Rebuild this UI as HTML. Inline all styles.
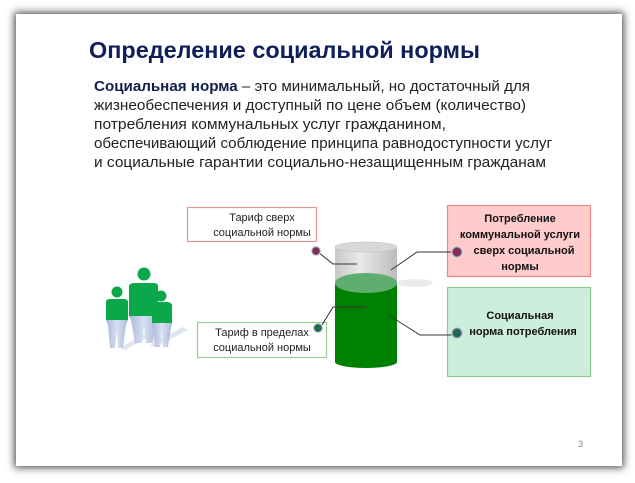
<!DOCTYPE html>
<html><head><meta charset="utf-8"><style>
html,body{margin:0;padding:0;background:#fff}
svg{display:block}
text{font-family:"Liberation Sans",sans-serif}
</style></head><body>
<svg width="635" height="483" viewBox="0 0 635 483" xmlns="http://www.w3.org/2000/svg">
<defs>
<filter id="sh" x="-5%" y="-5%" width="110%" height="110%"><feGaussianBlur stdDeviation="4"/></filter>
<linearGradient id="gl" x1="0" x2="1"><stop offset="0" stop-color="#c8c8c8"/><stop offset="0.4" stop-color="#e8e8e8"/><stop offset="1" stop-color="#bdbdbd"/></linearGradient>
<linearGradient id="leg" x1="0" x2="1"><stop offset="0" stop-color="#a9b7d6"/><stop offset="0.5" stop-color="#d8e0f2"/><stop offset="1" stop-color="#aab8d8"/></linearGradient>
<radialGradient id="rd"><stop offset="0" stop-color="#d0103a"/><stop offset="0.6" stop-color="#5a3a60"/><stop offset="1" stop-color="#eee"/></radialGradient>
<radialGradient id="gd"><stop offset="0" stop-color="#10803a"/><stop offset="0.6" stop-color="#2a5a60"/><stop offset="1" stop-color="#eee"/></radialGradient>
</defs>
<rect x="0" y="0" width="635" height="483" fill="#fff"/>
<rect x="14" y="12" width="610" height="456" fill="#555" filter="url(#sh)"/>
<rect x="16" y="14" width="606" height="452" fill="#fff"/>

<text x="89" y="58" font-size="23" font-weight="bold" fill="#0f1f5a" textLength="391" lengthAdjust="spacingAndGlyphs">Определение социальной нормы</text>
<g font-size="14.5" fill="#222">
<text x="94" y="91" textLength="436" lengthAdjust="spacingAndGlyphs"><tspan font-weight="bold" fill="#0f1f4a">Социальная норма</tspan> – это минимальный, но достаточный для</text>
<text x="94" y="110" textLength="432" lengthAdjust="spacingAndGlyphs">жизнеобеспечения и доступный по цене объем (количество)</text>
<text x="94" y="129" textLength="352" lengthAdjust="spacingAndGlyphs">потребления коммунальных услуг гражданином,</text>
<text x="94" y="148" textLength="458" lengthAdjust="spacingAndGlyphs">обеспечивающий соблюдение принципа равнодоступности услуг</text>
<text x="94" y="167" textLength="452" lengthAdjust="spacingAndGlyphs">и социальные гарантии социально-незащищенным гражданам</text>
</g>

<!-- boxes -->
<rect x="187.5" y="207.5" width="129" height="34" fill="#fff" stroke="#d99" stroke-width="1.2"/>
<text x="262" y="221" font-size="11" text-anchor="middle" fill="#222">Тариф сверх</text>
<text x="262" y="236" font-size="11" text-anchor="middle" fill="#222">социальной нормы</text>
<rect x="197.5" y="322.5" width="129" height="35" fill="#fff" stroke="#9c9" stroke-width="1.2"/>
<text x="262" y="336" font-size="11" text-anchor="middle" fill="#222">Тариф в пределах</text>
<text x="262" y="351" font-size="11" text-anchor="middle" fill="#222">социальной нормы</text>

<rect x="447.5" y="205.5" width="143" height="71" fill="#ffcccc" stroke="#e88" stroke-width="1.2"/>
<g font-size="11" font-weight="bold" text-anchor="middle" fill="#111">
<text x="520" y="222">Потребление</text>
<text x="520" y="238">коммунальной услуги</text>
<text x="524" y="254">сверх социальной</text>
<text x="520" y="270">нормы</text>
</g>
<rect x="447.5" y="287.5" width="143" height="89" fill="#cdeedd" stroke="#8c8" stroke-width="1.2"/>
<g font-size="11" font-weight="bold" text-anchor="middle" fill="#111">
<text x="520" y="319">Социальная</text>
<text x="523" y="335">норма потребления</text>
</g>

<!-- cylinder -->
<path d="M335 247 L335 283 L397 283 L397 247 Z" fill="url(#gl)"/>
<ellipse cx="366" cy="247" rx="31" ry="5" fill="#d8d8d8" stroke="#bbb" stroke-width="0.5"/>
<path d="M335 283 L335 362 A31 6 0 0 0 397 362 L397 283 Z" fill="#008000"/>
<ellipse cx="366" cy="283" rx="31" ry="10" fill="#5fae70"/>
<ellipse cx="415" cy="283" rx="18" ry="4" fill="#ddd" opacity="0.6"/>

<!-- connectors -->
<g stroke="#333" stroke-width="1" fill="none">
<polyline points="318,252 333,264 357,264"/>
<polyline points="322,325 333,307 366,307"/>
<polyline points="391,270 417,252 456,252"/>
<polyline points="390,316 420,335 456,335"/>
</g>
<circle cx="316" cy="251" r="5" fill="url(#rd)"/>
<circle cx="318" cy="328" r="5" fill="url(#gd)"/>
<circle cx="457" cy="252" r="6" fill="url(#rd)"/>
<circle cx="457" cy="333" r="6" fill="url(#gd)"/>

<!-- people -->
<g>
<path d="M120 348 L150 330 L156 333 L125 350 Z" fill="#dfe5f2"/>
<path d="M150 345 L183 327 L188 330 L155 347 Z" fill="#dfe5f2"/>
<!-- middle -->
<circle cx="144" cy="274" r="6.5" fill="#0aa84a"/>
<path d="M129 287 Q129 283 134 283 L154 283 Q158 283 158 287 L158 316 L129 316 Z" fill="#0aa84a"/>
<path d="M129 316 L158 316 L156 320 L153 343 L146 343 L144 325 L142 343 L135 343 L131 320 Z" fill="url(#leg)"/>
<!-- left -->
<circle cx="117" cy="292" r="5.5" fill="#0aa84a"/>
<path d="M106 302 Q106 299 110 299 L124 299 Q128 299 128 302 L128 320 L106 320 Z" fill="#0aa84a"/>
<path d="M106 320 L128 320 L126 325 L123 348 L118 348 L117 330 L115 348 L110 348 L108 325 Z" fill="url(#leg)"/>
<!-- right -->
<circle cx="161" cy="296" r="5.5" fill="#0aa84a"/>
<path d="M152 306 Q152 302 156 302 L167 302 Q172 302 172 306 L172 323 L152 323 Z" fill="#0aa84a"/>
<path d="M152 323 L172 323 L171 328 L168 347 L163 347 L162 332 L160 347 L155 347 L153 328 Z" fill="url(#leg)"/>
</g>

<text x="578" y="447" font-size="9" fill="#888">3</text>
</svg>
</body></html>
